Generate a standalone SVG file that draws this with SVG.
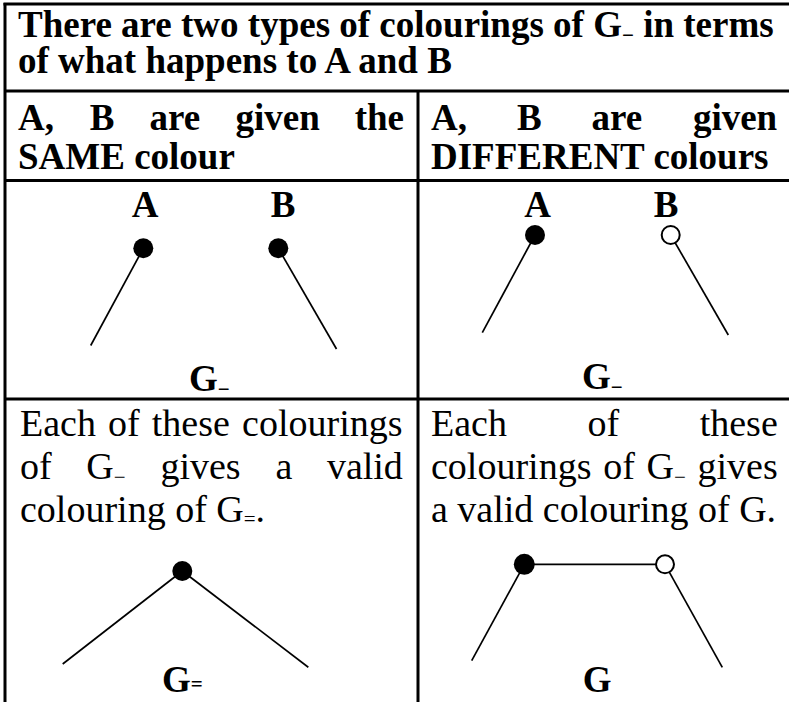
<svg xmlns="http://www.w3.org/2000/svg" width="789" height="702" viewBox="0 0 789 702">
<style>
.b{font-family:"Liberation Serif","Times New Roman",serif;font-weight:bold;font-size:37px;fill:#000}
.r{font-family:"Liberation Serif","Times New Roman",serif;font-size:38px;fill:#000}
.sub{font-size:21px}
.grid{stroke:#000;stroke-width:3;fill:none}
.edge{stroke:#000;stroke-width:1.7;fill:none}
.full{fill:#000}
.open{fill:#fff;stroke:#000;stroke-width:2}
.mid{text-anchor:middle}
</style>
<rect width="789" height="702" fill="#fff"/>
<g id="table" class="grid">
<line x1="3.5" y1="4" x2="789" y2="4"/>
<line x1="5" y1="3" x2="5" y2="702"/>
<line x1="5" y1="91" x2="789" y2="91"/>
<line x1="5" y1="180.5" x2="789" y2="180.5"/>
<line x1="5" y1="399" x2="789" y2="399"/>
<line x1="418" y1="91" x2="418" y2="702"/>
</g>
<g id="header">
<text class="b" x="18" y="37">There are two types of colourings of G<tspan class="sub" dy="5">−</tspan><tspan dy="-5"> in terms</tspan><tspan x="18" dy="36">of what happens to A and B</tspan></text>
</g>
<g id="same-head">
<text class="b" y="130"><tspan x="18">A,</tspan> <tspan x="89.8">B</tspan> <tspan x="149.4">are</tspan> <tspan x="235.6">given</tspan> <tspan x="354.7">the</tspan></text>
<text class="b" x="18" y="169">SAME colour</text>
</g>
<g id="diff-head">
<text class="b" y="130"><tspan x="431">A,</tspan> <tspan x="516.9">B</tspan> <tspan x="591.6">are</tspan> <tspan x="692.9">given</tspan></text>
<text class="b" x="431" y="169">DIFFERENT colours</text>
</g>
<g id="connectors">
<line class="edge" x1="143.3" y1="248.3" x2="90.7" y2="345.5"/>
<line class="edge" x1="278.3" y1="248.3" x2="336.5" y2="349"/>
<line class="edge" x1="535" y1="235" x2="482.3" y2="332.7"/>
<line class="edge" x1="670.7" y1="235" x2="728.3" y2="335"/>
<line class="edge" x1="182.3" y1="571" x2="62.7" y2="664"/>
<line class="edge" x1="182.3" y1="571" x2="308.3" y2="667.3"/>
<line class="edge" x1="524.3" y1="564.3" x2="665" y2="564.3"/>
<line class="edge" x1="524.3" y1="564.3" x2="471.7" y2="660.7"/>
<line class="edge" x1="665" y1="564.3" x2="722.3" y2="667.3"/>
</g>
<g id="gminus-same">
<text class="b mid" x="145" y="216.5">A</text>
<text class="b mid" x="283" y="216.5">B</text>
<circle class="full" cx="143.3" cy="248.3" r="10"/>
<circle class="full" cx="278.3" cy="248.3" r="10"/>
<text class="b" x="189" y="390.5">G<tspan class="sub" dy="5">−</tspan></text>
</g>
<g id="gminus-diff">
<text class="b mid" x="537.5" y="216.5">A</text>
<text class="b mid" x="666" y="216.5">B</text>
<circle class="full" cx="535" cy="235" r="10"/>
<circle class="open" cx="670.7" cy="235" r="9"/>
<text class="b" x="582" y="389">G<tspan class="sub" dy="5">−</tspan></text>
</g>
<g id="same-text">
<text class="r" y="436"><tspan x="20">Each</tspan> <tspan x="108.1">of</tspan> <tspan x="151.8">these</tspan> <tspan x="242.1">colourings</tspan></text>
<text class="r" y="479"><tspan x="20">of</tspan> <tspan x="86.3">G<tspan class="sub" dy="5">−</tspan></tspan> <tspan x="160.4" dy="-5">gives</tspan> <tspan x="275.4">a</tspan> <tspan x="326.9">valid</tspan></text>
<text class="r" x="20" y="522">colouring of G<tspan class="sub" dy="4">=</tspan><tspan dy="-4">.</tspan></text>
</g>
<g id="diff-text">
<text class="r" y="436"><tspan x="431">Each</tspan> <tspan x="587.5">of</tspan> <tspan x="699.7">these</tspan></text>
<text class="r" y="479"><tspan x="431">colourings</tspan> <tspan x="603.3">of</tspan> <tspan x="646.5">G<tspan class="sub" dy="5">−</tspan></tspan> <tspan x="697.5" dy="-5">gives</tspan></text>
<text class="r" x="431" y="522">a valid colouring of G.</text>
</g>
<g id="gequal">
<circle class="full" cx="182.3" cy="571" r="10"/>
<text class="b" x="162" y="692">G<tspan class="sub" dy="-1">=</tspan></text>
</g>
<g id="g-full">
<circle class="full" cx="524.3" cy="564.3" r="10.5"/>
<circle class="open" cx="665" cy="564.3" r="9"/>
<text class="b" x="582.7" y="692">G</text>
</g>
</svg>
